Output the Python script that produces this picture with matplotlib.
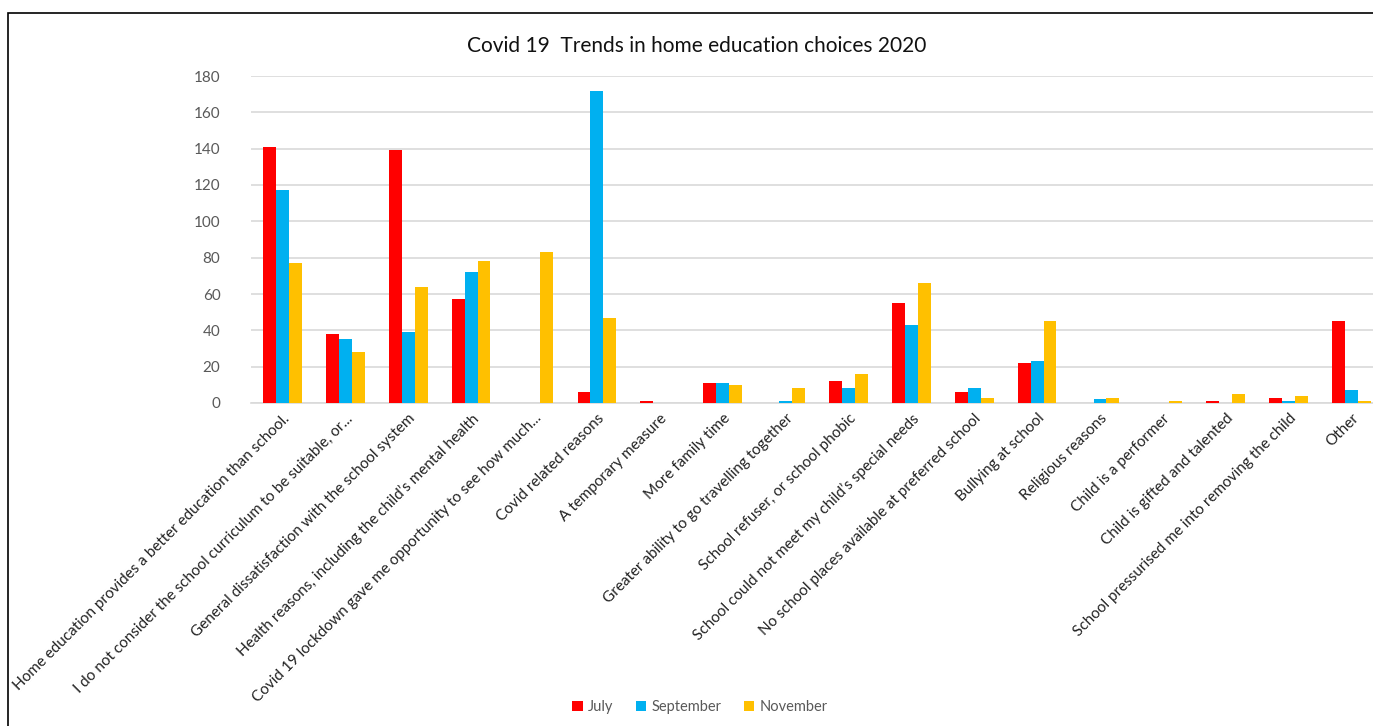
import numpy as np
import matplotlib
matplotlib.use("Agg")
import matplotlib.pyplot as plt
from matplotlib.patches import Rectangle

plt.rcParams['font.family'] = ['Lato', 'DejaVu Sans']

categories = [
    "Home education provides a better education than school.",
    "I do not consider the school curriculum to be suitable, or...",
    "General dissatisfaction with the school system",
    "Health reasons, including the child\u2019s mental health",
    "Covid 19 lockdown gave me opportunity to see how much...",
    "Covid related reasons",
    "A temporary measure",
    "More family time",
    "Greater ability to go travelling together",
    "School refuser, or school phobic",
    "School could not meet my child\u2019s special needs",
    "No school places available at preferred school",
    "Bullying at school",
    "Religious reasons",
    "Child is a performer",
    "Child is gifted and talented",
    "School pressurised me into removing the child",
    "Other",
]
july = [141, 38, 139, 57, 0, 6, 1, 11, 0, 12, 55, 6, 22, 0, 0, 1, 3, 45]
september = [117, 35, 39, 72, 0, 172, 0, 11, 1, 8, 43, 8, 23, 2, 0, 0, 1, 7]
november = [77, 28, 64, 78, 83, 47, 0, 10, 8, 16, 66, 3, 45, 3, 1, 5, 4, 1]

fig = plt.figure(figsize=(13.73, 7.26), dpi=100)
ax = fig.add_axes([251/1373, 1-403/726, 1132/1373, 327/726])

x = np.arange(len(categories))
w = 0.205
ax.bar(x - w, july, w, color="#FF0000", label="July", zorder=3)
ax.bar(x, september, w, color="#00B0F0", label="September", zorder=3)
ax.bar(x + w, november, w, color="#FFC000", label="November", zorder=3)

ax.set_xlim(-0.5, len(categories) - 0.5)
ax.set_ylim(0, 180)
ax.set_yticks(range(0, 181, 20))
ax.yaxis.grid(True, color="#d9d9d9", linewidth=1.2, zorder=0)
for s in ["top", "right", "left"]:
    ax.spines[s].set_visible(False)
ax.spines["bottom"].set_color("#d9d9d9")
ax.spines["bottom"].set_linewidth(1.2)
ax.tick_params(axis="y", length=0, labelsize=11, labelcolor="#595959", pad=22)
ax.tick_params(axis="x", length=0, pad=6)
ax.set_xticks(x)
ax.set_xticklabels(categories, rotation=45, ha="right", va="top",
                   rotation_mode="anchor", fontsize=11, color="#222222")
ax.set_title("Covid 19  Trends in home education choices 2020", fontsize=15,
             color="#111111", x=(697-251)/1132, pad=17)

fig.legend(loc="center", bbox_to_anchor=(700/1373, 1-707/726), ncol=3,
           frameon=False, fontsize=10.5, handlelength=0.7, handleheight=0.7,
           columnspacing=1.5, handletextpad=0.4, labelcolor="#595959")

fig.patches.append(Rectangle((8/1373, -0.1), 1.2, 0.1 + 1-13/726,
                             transform=fig.transFigure, fill=False,
                             edgecolor="black", linewidth=1.2))

fig.savefig("out.png", dpi=100)
